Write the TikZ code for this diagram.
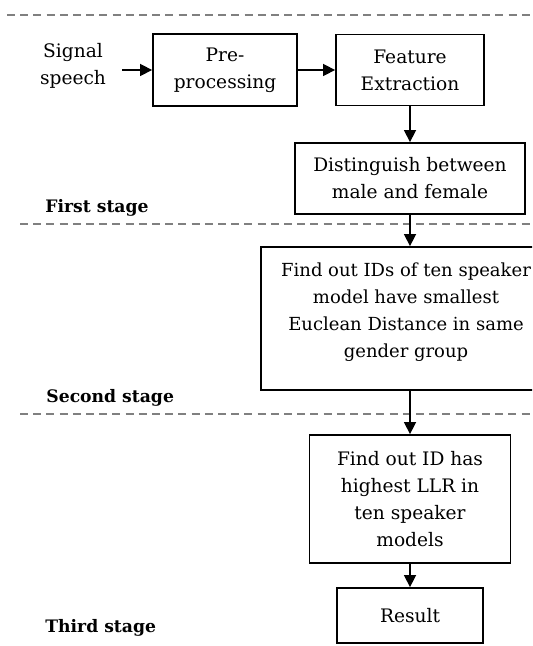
\documentclass[tikz,border=0pt]{standalone}
\usepackage{fontspec}
\setmainfont{DejaVu Serif}
\usepackage{tikz}
\usetikzlibrary{positioning, calc, arrows.meta}
\tikzset{
    stagebox/.style={
        draw, line width=0.9pt, fill=white, align=center, inner sep=2pt,
        font=\fontsize{9.3}{13.5}\selectfont
    },
    stagelabel/.style={
        anchor=west, inner sep=0pt, font=\fontsize{8.6}{13.5}\selectfont\bfseries
    },
    stageline/.style={
        black!50, line width=1.2pt, dash pattern=on 4pt off 2.6pt
    },
    flow/.style={
        -{Triangle[length=6pt, width=6pt]}, line width=0.75pt
    }
}

\begin{document}
\begin{tikzpicture}[x=0.5pt, y=-0.5pt]
    \useasboundingbox (0,0) rectangle (532,646);
    \clip (0,0) rectangle (532,646);

    % stage separators
    \foreach \y/\x in {15/7, 224/20, 414/20}
        \draw[stageline] (\x,\y) -- (532,\y);

    % first stage
    \node[font=\fontsize{9.3}{13.5}\selectfont, align=center, inner sep=0pt] (signal) at (73,66) {Signal\\speech};
    \node[stagebox, minimum width=72pt, minimum height=36pt] (pre) at (225,70) {Pre-\\processing};
    \node[stagebox, minimum width=74pt, minimum height=35.5pt] (feat) at (410,70) {Feature\\Extraction};
    \node[stagebox, minimum width=115pt, minimum height=35.5pt] (gender) at (410,178.5) {Distinguish between\\male and female};
    \node[stagelabel] (first) at (45,208) {First stage};

    % second stage (box runs past the right edge)
    \node[stagebox, minimum width=149pt, minimum height=71.5pt] (tenids) at (410,318.5) {};
    \node[align=center, inner sep=0pt, font=\fontsize{9}{13.5}\selectfont] (tenidstext) at (406,312)
        {Find out IDs of ten speaker\\model have smallest\\Euclean Distance in same\\gender group};
    \node[stagelabel] (second) at (46,398) {Second stage};

    % third stage
    \node[stagebox, minimum width=100.5pt, minimum height=64pt] (llr) at (410,499)
        {Find out ID has\\highest LLR in\\ten speaker\\models};
    \node[stagebox, minimum width=73pt, minimum height=27.5pt] (result) at (410,615.5) {Result};
    \node[stagelabel] (third) at (45,628) {Third stage};

    % arrows
    \draw[flow] ([xshift=8pt]signal.east |- pre.west) -- (pre.west);
    \draw[flow] (pre) -- (feat);
    \draw[flow] (feat) -- (gender);
    \draw[flow] (gender) -- (tenids);
    \draw[flow] (tenids) -- (llr);
    \draw[flow] (llr) -- (result);
\end{tikzpicture}
\end{document}
